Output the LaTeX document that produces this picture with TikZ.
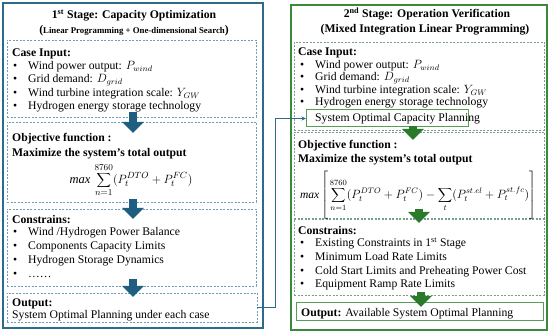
\documentclass[tikz,border=0pt]{standalone}
\usepackage{fontspec}
\setmainfont{Liberation Serif}
\usetikzlibrary{arrows.meta}
\definecolor{bdark}{HTML}{2E6A8A}
\definecolor{blite}{HTML}{6E9DB8}
\definecolor{barrow}{HTML}{1F5E80}
\definecolor{gdark}{HTML}{3B8A3B}
\definecolor{glite}{HTML}{7A9E8C}
\definecolor{garrow}{HTML}{2A7A2A}
\newcommand\fs{\fontsize{11.7}{14}\selectfont}
\newcommand\ft{\fontsize{11.7}{14}\selectfont}
\newcommand\itm[4]{\node[bul] (#1b) at (#2,#3) {\textbullet}; \node[txt] (#1) at (#2+15,#3) {#4};}
\begin{document}
\begin{tikzpicture}[x=1pt,y=-1pt,
  txt/.style={anchor=base west, inner sep=0pt, font=\fs},
  bul/.style={anchor=base west, inner sep=0pt, font=\fs},
  ttl/.style={anchor=base, inner sep=0pt, font=\ft\bfseries},
  box/.style 2 args={anchor=north west, inner sep=0pt, outer sep=0pt, minimum width=#1pt, minimum height=#2pt},
  outerL/.style={draw=bdark, line width=1.4pt},
  outerR/.style={draw=gdark, line width=1.4pt},
  dashL/.style={draw=blite, line width=0.8pt, dash pattern=on 2pt off 1.5pt},
  dashR/.style={draw=glite, line width=0.8pt, dash pattern=on 2pt off 1.5pt},
  solidR/.style={draw=gdark!85, line width=1pt},
  blockL/.style={draw=barrow, line width=8.5pt, -{Triangle[width=21pt,length=11pt]}},
  blockR/.style={draw=garrow, line width=8.5pt, -{Triangle[width=21pt,length=11pt]}},
  link/.style={draw=bdark, line width=0.8pt, -{Stealth[length=4.5pt,width=4pt]}}]
\useasboundingbox (0,0) rectangle (550,334);
\fill[white] (0,0) rectangle (550,334);

% ---------- left stage ----------
\node[outerL, box={260}{325}] (oL) at (3,3) {};
\node[dashL, box={249}{77}] (ciL) at (7,40) {};
\node[dashL, box={249}{80}] (objL) at (7,122) {};
\node[dashL, box={249}{77}] (conL) at (7,209) {};
\node[dashL, box={250}{29}] (outL) at (7,293) {};

\node[ttl] (tL1) at (134,19) {1\textsuperscript{st} Stage: Capacity Optimization};
\node[ttl, font=\fontsize{8.8}{10}\selectfont\bfseries] (tL2) at (134,34) {{\ft(}Linear Programming + One-dimensional Search{\ft)}};

\node[txt, font=\fs\bfseries] (ciLh) at (12,57) {Case Input:};
\itm{l1}{13}{70}{Wind power output: $P_{wind}$}
\itm{l2}{13}{83}{Grid demand: $D_{grid}$}
\itm{l3}{13}{96.5}{Wind turbine integration scale: $Y_{GW}$}
\itm{l4}{13}{110}{Hydrogen energy storage technology}

\node[txt, font=\fs\bfseries] (objLh) at (12,142) {Objective function :};
\node[txt, font=\fs\bfseries] (objLm) at (12,157) {Maximize the system’s total output};
\node[inner sep=0pt, font=\fontsize{12.5}{14}\selectfont] (fL) at (131,180) {$\displaystyle \mathit{max}\,\sum_{n=1}^{8760}(P_t^{DTO}+P_t^{FC})$};

\node[txt, font=\fs\bfseries] (conLh) at (12,224) {Constrains:};
\itm{c1}{13}{236}{Wind /Hydrogen Power Balance}
\itm{c2}{13}{250}{Components Capacity Limits}
\itm{c3}{13}{264}{Hydrogen Storage Dynamics}
\itm{c4}{13}{278}{……}

\node[txt, font=\fs\bfseries] (outLh) at (12,307) {Output:};
\node[txt] (outLt) at (12,319) {System Optimal Planning under each case};

% ---------- right stage ----------
\node[outerR, box={256}{325}] (oR) at (291,5) {};
\node[dashR, box={250}{88}] (ciR) at (294,42) {};
\node[dashR, box={250}{86}] (objR) at (294,132) {};
\node[dashR, box={250}{76}] (conR) at (294,219) {};
\node[solidR, box={247}{18}] (outR) at (296,303) {};
\node[solidR, box={162}{17}] (capR) at (306,110) {};

\node[ttl] (tR1) at (427,18) {2\textsuperscript{nd} Stage: Operation Verification};
\node[ttl] (tR2) at (425,33) {(Mixed Integration Linear Programming)};

\node[txt, font=\fs\bfseries] (ciRh) at (298,55.5) {Case Input:};
\itm{r1}{300}{68.5}{Wind power output: $P_{wind}$}
\itm{r2}{300}{81}{Grid demand: $D_{grid}$}
\itm{r3}{300}{93.5}{Wind turbine integration scale: $Y_{GW}$}
\itm{r4}{300}{106}{Hydrogen energy storage technology}
\node[txt] (capRt) at (315,122) {System Optimal Capacity Planning};

\node[txt, font=\fs\bfseries] (objRh) at (298,149) {Objective function :};
\node[txt, font=\fs\bfseries] (objRm) at (298,163) {Maximize the system’s total output};
\node[inner sep=0pt, font=\fontsize{11.5}{14}\selectfont] (fR) at (418,196) {$\displaystyle \mathit{max}\left[\rule[-22pt]{0pt}{48pt}\sum_{n=1}^{8760}(P_t^{DTO}+P_t^{FC})-\sum_{t}\bigl(P_t^{st.el}+P_t^{st.fc}\bigr)\right]$};

\node[txt, font=\fs\bfseries] (conRh) at (298,235) {Constrains:};
\itm{s1}{300}{247}{Existing Constraints in 1\textsuperscript{st} Stage}
\itm{s2}{300}{261}{Minimum Load Rate Limits}
\itm{s3}{300}{274.5}{Cold Start Limits and Preheating Power Cost}
\itm{s4}{300}{288}{Equipment Ramp Rate Limits}

\node[txt] (outRt) at (301,316.5) {\textbf{Output:} Available System Optimal Planning};

% ---------- block arrows ----------
\coordinate (a1s) at (133,112); \coordinate (a1e) at (133,133);
\coordinate (a2s) at (133,199); \coordinate (a2e) at (133,219);
\coordinate (a3s) at (133,279); \coordinate (a3e) at (133,297);
\draw[blockL] (a1s) -- (a1e);
\draw[blockL] (a2s) -- (a2e);
\draw[blockL] (a3s) -- (a3e);
\coordinate (b1s) at (413,126); \coordinate (b1e) at (413,140);
\coordinate (b2s) at (419,209); \coordinate (b2e) at (419,223);
\coordinate (b3s) at (421,292); \coordinate (b3e) at (421,307);
\draw[blockR] (b1s) -- (b1e);
\draw[blockR] (b2s) -- (b2e);
\draw[blockR] (b3s) -- (b3e);

% ---------- connector ----------
\draw[link] (outL.east) -- ++(18,0) |- (capR.west);
\end{tikzpicture}
\end{document}
